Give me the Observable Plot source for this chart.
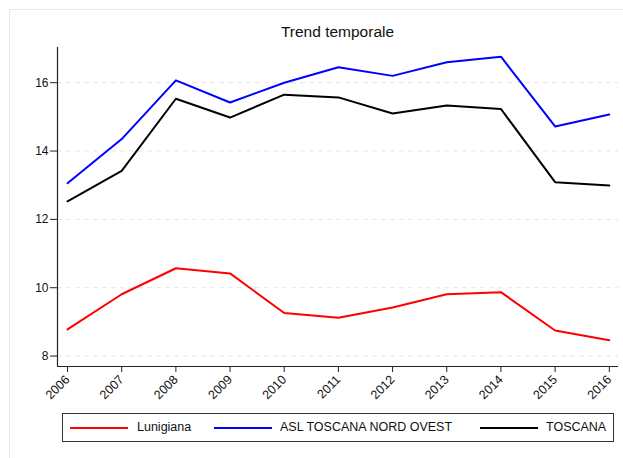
<!DOCTYPE html>
<html>
<head>
<meta charset="utf-8">
<script src="https://cdn.jsdelivr.net/npm/d3@7"></script>
<script src="https://cdn.jsdelivr.net/npm/@observablehq/plot@0.6"></script>
<style>
  html, body { margin: 0; padding: 0; background: #fff; }
  #wrap { position: relative; width: 623px; height: 458px; overflow: hidden; font-family: "Liberation Sans", Arial, sans-serif; }
  #frame { position: absolute; left: 9px; top: 9px; width: 640px; height: 470px; border: 1px solid #e4eaec; box-sizing: border-box; }
  #title { position: absolute; left: 57px; width: 561px; top: 23px; text-align: center; font-size: 15.5px; color: #111; }
  #chart { position: absolute; left: 0; top: 0; }
  #legend { position: absolute; left: 62px; top: 413px; width: 552px; height: 29px; border: 1px solid #333; box-sizing: border-box; background: #fff; }
  .li { position: absolute; top: 0; height: 27px; line-height: 27px; font-size: 12.5px; color: #111; white-space: nowrap; }
  .sw { position: absolute; top: 13px; height: 2px; width: 58px; }
</style>
</head>
<body>
<div id="wrap">
  <div id="frame"></div>
  <div id="chart"></div>
  <div id="title">Trend temporale</div>
  <div id="legend"></div>
</div>
<script>
const years = [2006, 2007, 2008, 2009, 2010, 2011, 2012, 2013, 2014, 2015, 2016];
const lunigiana = [8.78, 9.81, 10.57, 10.42, 9.26, 9.12, 9.42, 9.81, 9.87, 8.75, 8.46];
const aslToscanaNordOvest = [13.06, 14.35, 16.07, 15.42, 16.0, 16.45, 16.2, 16.6, 16.76, 14.72, 15.07];
const toscana = [12.53, 13.42, 15.53, 14.98, 15.65, 15.57, 15.1, 15.33, 15.23, 13.09, 12.99];
const seriesNames = ["Lunigiana", "ASL TOSCANA NORD OVEST", "TOSCANA"];
const seriesColors = ["#ff0000", "#0000ff", "#000000"];
const yTicks = [8, 10, 12, 14, 16];
const xDomain = [2005.815, 2016.17];
const yDomain = [7.695, 17.03];

const seriesValues = [lunigiana, aslToscanaNordOvest, toscana];
const rows = [];
seriesNames.forEach((name, i) => {
  years.forEach((yr, j) => rows.push({series: name, year: yr, value: seriesValues[i][j]}));
});

const chart = Plot.plot({
  width: 623,
  height: 458,
  marginLeft: 57,
  marginRight: 5,
  marginTop: 47,
  marginBottom: 92,
  style: { fontFamily: "'Liberation Sans', Arial, sans-serif", fontSize: "12px", background: "transparent", color: "#111" },
  x: { domain: xDomain },
  y: { domain: yDomain },
  color: { domain: seriesNames, range: seriesColors },
  marks: [
    Plot.gridY(yTicks, { stroke: "#e6e6e6", strokeOpacity: 1, strokeDasharray: "5,4" }),
    Plot.line(rows, { x: "year", y: "value", z: "series", stroke: "series", strokeWidth: 2 }),
    Plot.ruleX([xDomain[0]], { stroke: "#222", strokeWidth: 1.2 }),
    Plot.ruleY([yDomain[0]], { stroke: "#222", strokeWidth: 1.2 }),
    Plot.axisY(yTicks, { tickSize: 7, tickPadding: 2, label: null, stroke: "#222", fontSize: 12 }),
    Plot.axisX(years, { tickSize: 6, tickPadding: 5, tickRotate: -45, label: null, stroke: "#222", fontSize: 12.5, tickFormat: d => String(d) })
  ]
});
document.getElementById("chart").appendChild(chart);

// legend
const legend = document.getElementById("legend");
const swX = [7, 151, 417];
const txX = [74, 217, 483];
seriesNames.forEach((name, i) => {
  const sw = document.createElement("div");
  sw.className = "sw";
  sw.style.left = swX[i] + "px";
  sw.style.background = seriesColors[i];
  legend.appendChild(sw);
  const t = document.createElement("div");
  t.className = "li";
  t.style.left = txX[i] + "px";
  t.textContent = name;
  legend.appendChild(t);
});
</script>
</body>
</html>
